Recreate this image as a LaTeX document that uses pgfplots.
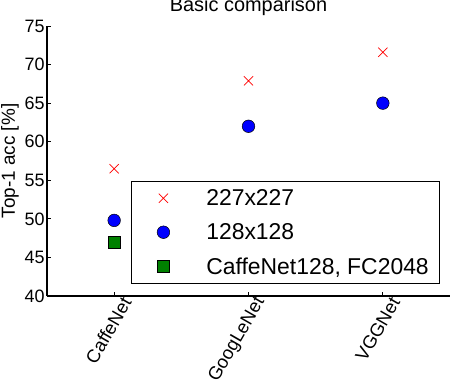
\documentclass[border=0pt]{standalone}
\usepackage{pgfplots}
\pgfplotsset{compat=1.18}
\usetikzlibrary{calc}
\usepackage{fontspec}
\setmainfont{Liberation Sans}
\definecolor{mgreen}{RGB}{0,128,0}

\begin{document}
\begin{tikzpicture}
\begin{axis}[
    scale only axis,
    width=403bp, height=270bp,
    xmin=-0.5, xmax=2.5,
    ymin=40, ymax=75,
    ytick={40,45,...,75},
    xtick={0,1,2},
    xticklabels={CaffeNet, GoogLeNet, VGGNet},
    x tick label style={xshift=14bp, rotate=60, anchor=east, font=\fontsize{18.5}{20}\selectfont},
    y tick label style={font=\fontsize{18}{20}\selectfont, xshift=1bp},
    /pgf/number format/assume math mode=true,
    axis x line*=bottom, axis y line*=left,
    axis line style={line width=1.6pt},
    tick style={line width=0.8pt, black},
    tick align=inside,
    major tick length=4bp,
    ylabel={Top-1 acc [\%]},
    ylabel style={font=\fontsize{19}{21}\selectfont, yshift=-1bp},
    title={Basic comparison},
    title style={font=\fontsize{20}{22}\selectfont, yshift=0.5bp},
    legend image code/.code={
        \path (-0.5cm,0) (0.6cm,0);
        \draw[mark repeat=2,mark phase=2,#1] plot coordinates {(0cm,0cm) (0.3cm,0cm) (0.6cm,0cm)};
    },
    legend style={at={(0.208,0.044)}, anchor=south west, draw=black, line width=1.2pt,
        font=\fontsize{23}{25}\selectfont, row sep=12.5bp, inner xsep=9bp, inner ysep=6bp,
        /tikz/every odd column/.append style={column sep=32bp}},
    legend cell align=left,
]
\addplot[only marks, mark=x, mark size=6.5bp, red, line width=0.7pt] coordinates {
    (0,56.5) (1,67.9) (2,71.6)
};
\addlegendentry{227x227}
\addplot[only marks, mark=*, mark size=6.3bp, draw=black, fill=blue, line width=0.5pt] coordinates {
    (0,49.8) (1,62.0) (2,65.0)
};
\addlegendentry{128x128}
\addplot[only marks, mark=square*, mark size=5.8bp, draw=black, fill=mgreen, line width=0.5pt] coordinates {
    (0,47.0)
};
\addlegendentry{CaffeNet128, FC2048}
\end{axis}
\pgfresetboundingbox
\useasboundingbox ($(current axis.south west)+(-47bp,-94bp)$) rectangle +(452bp,390bp);
\end{tikzpicture}
\end{document}
